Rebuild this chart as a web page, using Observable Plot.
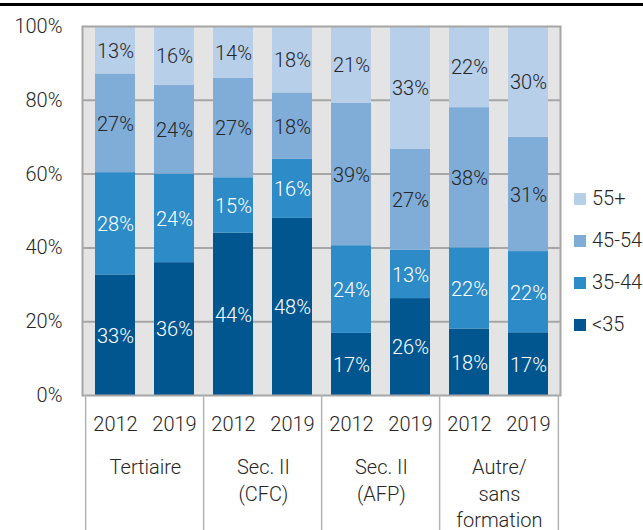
<!DOCTYPE html>
<html><head><meta charset="utf-8">
<script src="https://cdn.jsdelivr.net/npm/d3@7"></script>
<script src="https://cdn.jsdelivr.net/npm/@observablehq/plot@0.6"></script>
<style>
body{margin:0;background:#fff;font-family:Roboto,sans-serif;}
#wrap{position:relative;width:643px;height:530px;overflow:hidden;}
#topline{position:absolute;left:0;top:3px;width:643px;height:3px;background:#000;}
#legend{position:absolute;left:0;top:0;}
.item{position:absolute;left:574px;height:20px;font-size:20px;font-weight:300;color:#262626;line-height:20px;white-space:nowrap;}
.sw{display:inline-block;width:12px;height:12px;vertical-align:middle;margin-right:6px;position:relative;top:-1px;}
</style></head>
<body><div id="wrap"><div id="topline"></div><div id="chart"></div><div id="legend"></div></div>
<script>
const groups = ["Tertiaire","Sec. II (CFC)","Sec. II (AFP)","Autre/ sans formation"];
const groupLabels = ["Tertiaire","Sec. II\n(CFC)","Sec. II\n(AFP)","Autre/\nsans\nformation"];
const years = ["2012","2019"];
const ages = ["<35","35-44","45-54","55+"];
const colors = ["#02568f","#2d8bc7","#80acd8","#b8cfea"];
const under35 = [33,36,44,48,17,26,18,17];
const a35_44  = [28,24,15,16,24,13,22,22];
const a45_54  = [27,24,27,18,39,27,38,31];
const a55     = [13,16,14,18,21,33,22,30];
const yTicks = [0,0.2,0.4,0.6,0.8,1];

const series = [under35,a35_44,a45_54,a55];
const keys = [];
groups.forEach(g => years.forEach(y => keys.push(g+"|"+y)));
const rows = [];
ages.forEach((a,ai) => keys.forEach((k,ki) => rows.push({key:k, age:a, value:series[ai][ki]})));
const darkAges = new Set(["<35","35-44"]);

const W=643,H=530,mL=82,mR=83,mT=26,mB=135;
const step=(W-mL-mR)/keys.length;
const plotH=H-mT-mB;
const stackOpts = {x:"key", y:"value", z:"age", order:ages, offset:"normalize"};

const chart = Plot.plot({
  width:W, height:H, marginLeft:mL, marginRight:mR, marginTop:mT, marginBottom:mB,
  style:{fontFamily:"Roboto, sans-serif", fontSize:"20px", fontWeight:300, color:"#262626", background:"transparent"},
  x:{type:"band", domain:keys, paddingInner:0.33, paddingOuter:0.165, axis:null, label:null},
  y:{domain:[0,1], axis:null, label:null},
  color:{domain:ages, range:colors},
  marks:[
    Plot.frame({fill:"#e4e4e4"}),
    Plot.gridY(yTicks.slice(1,-1), {stroke:"#a6a6a6", strokeWidth:2, strokeOpacity:1}),
    Plot.barY(rows, Plot.stackY({...stackOpts, fill:"age"})),
    Plot.text(rows, Plot.stackY({...stackOpts, text:d=>darkAges.has(d.age)?d.value+"%":"", fill:"white", dy:1})),
    Plot.text(rows, Plot.stackY({...stackOpts, text:d=>darkAges.has(d.age)?"":d.value+"%", fill:"#262626", dy:1})),
    Plot.frame({stroke:"#a6a6a6", strokeWidth:2}),
    Plot.axisY(yTicks, {tickFormat:d3.format(".0%"), tickSize:0, tickPadding:20, fill:"#262626", label:null}),
    Plot.axisX({tickFormat:k=>k.split("|")[1], tickSize:0, tickPadding:21, fill:"#262626", label:null}),
    Plot.ruleX(groups.map(g=>g+"|2012"), {dx:-step/2, stroke:"#b4b4b4", strokeWidth:1.5, insetTop:plotH, insetBottom:-mB}),
    Plot.ruleX([groups[groups.length-1]+"|2019"], {dx:step/2, stroke:"#b4b4b4", strokeWidth:1.5, insetTop:plotH, insetBottom:-mB}),
    Plot.text(groups.map((g,i)=>({key:g+"|2012", label:groupLabels[i]})), {x:"key", text:"label", frameAnchor:"bottom", dx:step/2, dy:60, lineAnchor:"top", lineHeight:1.32, fill:"#262626"})
  ]
});
document.getElementById("chart").appendChild(chart);

const legendCenters = [198,240,282,324];
const leg = document.getElementById("legend");
ages.slice().reverse().forEach((a,i) => {
  const ci = ages.indexOf(a);
  const el = document.createElement("div");
  el.className="item";
  el.style.top=(legendCenters[i]-10)+"px";
  el.innerHTML=`<span class="sw" style="background:${colors[ci]}"></span>`;
  el.appendChild(document.createTextNode(a));
  leg.appendChild(el);
});
</script></body></html>
